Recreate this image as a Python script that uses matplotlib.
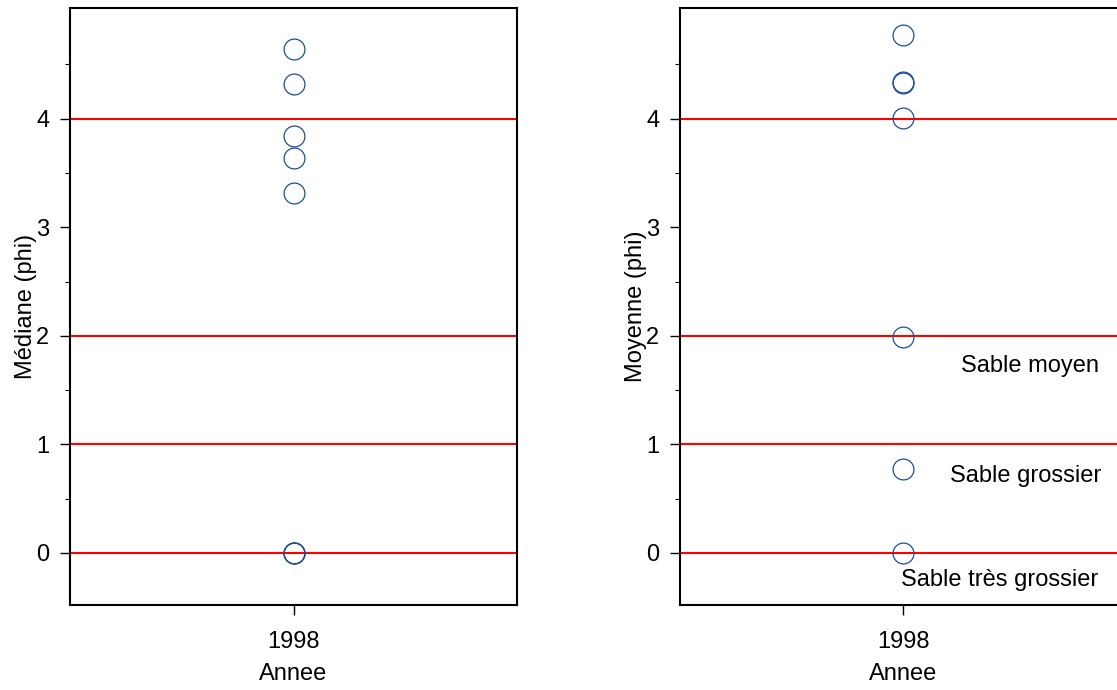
import matplotlib
matplotlib.use("Agg")
import matplotlib.pyplot as plt
from matplotlib.ticker import FixedLocator

plt.rcParams['font.family'] = ['Liberation Sans', 'DejaVu Sans']

years = ['1998']
mediane = [4.645, 4.32, 3.84, 3.64, 3.32, 0.0, 0.0, 0.0]
moyenne = [4.77, 4.34, 4.33, 4.01, 1.99, 0.77, 0.0]
limits = [0, 1, 2, 4]
class_labels = ['Sable moyen', 'Sable grossier', 'Sable très grossier']
class_label_y = [1.72, 0.71, -0.25]
class_label_x = [0.566, 0.548, 0.428]

W, H = 1117, 690
fig = plt.figure(figsize=(W / 100, H / 100), dpi=100)

blue = '#1f4f8f'
fs = 17

def make_panel(left_px, values, ylabel, labels=None):
    ax = fig.add_axes([left_px / W, (H - 605) / H, 447 / W, 597 / H])
    for y in limits:
        ax.axhline(y, color='red', lw=1.5, zorder=1)
    ax.plot([0] * len(values), values, linestyle='none', marker='o',
            markersize=15, markerfacecolor='none', markeredgecolor=blue,
            markeredgewidth=0.9, zorder=3)
    ax.set_xlim(-1, 1)
    ax.set_ylim(-0.48, 5.02)
    ax.set_xticks([0])
    ax.set_xticklabels(years)
    ax.set_yticks([0, 1, 2, 3, 4])
    ax.yaxis.set_minor_locator(FixedLocator([0.5, 1.5, 2.5, 3.5, 4.5]))
    ax.tick_params(axis='both', which='major', length=7, width=1, labelsize=fs,
                   direction='out')
    ax.tick_params(axis='x', which='major', pad=12)
    ax.tick_params(axis='y', which='major', pad=8)
    ax.tick_params(axis='y', which='minor', length=3.5, width=0.8)
    ax.tick_params(axis='x', which='minor', length=0)
    for s in ax.spines.values():
        s.set_linewidth(1.5)
    ax.set_xlabel('Annee', fontsize=fs, labelpad=7)
    ax.set_ylabel(ylabel, fontsize=fs)
    ax.yaxis.set_label_coords(-0.074, 0.5)
    if labels:
        for t, x, y in zip(*labels):
            ax.text(x, y, t, ha='center', va='center', fontsize=fs)
    return ax

make_panel(70, mediane, 'Médiane (phi)')
make_panel(680, moyenne, 'Moyenne (phi)', (class_labels, class_label_x, class_label_y))

fig.savefig('out.png', dpi=100)
